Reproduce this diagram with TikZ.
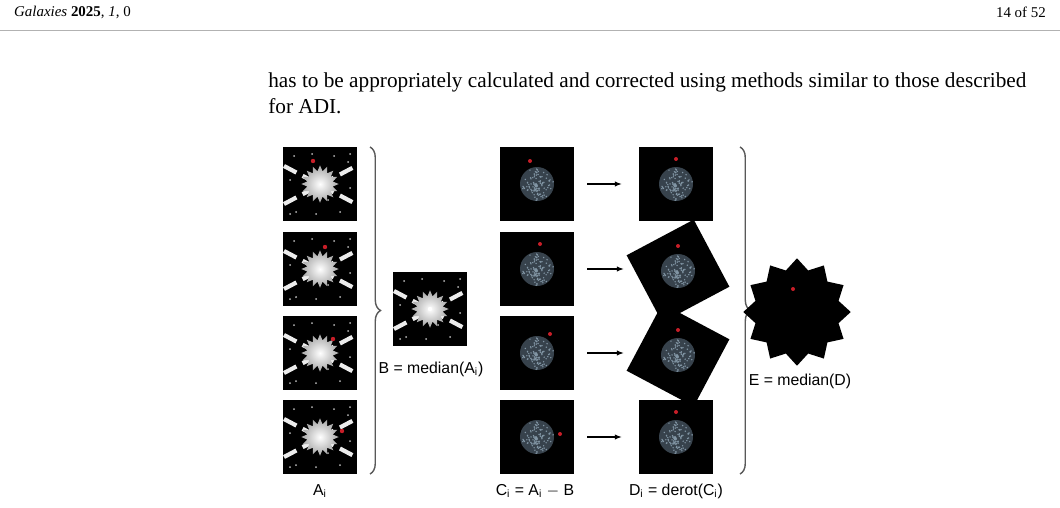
\documentclass[tikz,border=0pt]{standalone}
\usepackage{fontspec}
\setmainfont{Liberation Serif}
\newfontfamily\labfont{Liberation Sans}
\usetikzlibrary{shapes.geometric,decorations.pathreplacing,arrows.meta}
\definecolor{speck}{RGB}{55,66,76}
\definecolor{specklight}{RGB}{130,150,165}
\definecolor{planet}{RGB}{200,30,40}
\tikzset{
  frame/.style={fill=black, minimum size=1.48cm, inner sep=0pt, draw=none},
  beam/.style={white!85!gray, line width=2.4pt, dash pattern=on 8pt off 4pt},
  burst/.style={star, star points=16, star point ratio=1.45, minimum size=0.75cm,
    inner sep=0pt, shading=radial, inner color=white, outer color=gray!70, draw=none},
  lab/.style={font=\labfont\fontsize{9}{11}\selectfont, inner sep=1pt},
  derot/.style={-{Latex[length=4pt]}, thick, shorten >=1.08cm, shorten <=0.26cm},
  grp/.style={decorate, decoration={brace, amplitude=6pt}, gray!70!black, thick},
}
% star field with dashed beams
\newcommand{\starfield}[5]{%
  \begin{scope}[shift={(#1,#2)}]
    \draw[beam] (-36,-18) -- (36,20);
    \draw[beam] (-36,20) -- (36,-18);
    \node[burst] at (0,0) {};
    \foreach \p in {(-26,-28),(-8,-30),(14,-28),(28,-22),(-30,-4),(30,4),(-24,28),(-4,30),(20,28),(30,-30),(-30,30),(8,16)}
      \fill[gray!55] \p circle (1);
    \fill[#5] (#3,#4) circle (2.2);
  \end{scope}}
% speckle residual after subtraction
\newcommand{\residual}[5]{%
  \begin{scope}[shift={(#1,#2)}, rotate=#5]
    \fill[speck] (0,0) circle (17);
    \pgfmathsetseed{7}
    \foreach \i in {1,...,110}
      \fill[specklight] ({rnd*360}:{rnd*16.5}) circle (0.8);
    \fill[planet] (#3,#4) circle (2);
  \end{scope}}
\begin{document}
\begin{tikzpicture}[x=0.02cm, y=-0.02cm]
  \useasboundingbox (0,0) rectangle (1060,507);

  % page header and text
  \node[anchor=west] (hd) at (8,12) {\fontsize{8.5}{10}\selectfont\textit{Galaxies} \textbf{2025}, \textit{1}, 0};
  \node[anchor=east] (pg) at (1052,12) {\fontsize{8.5}{10}\selectfont 14 of 52};
  \draw[gray!60] (0,30) -- (1060,30);
  \node[anchor=west, inner sep=0pt] (t1) at (268,82) {\fontsize{12.1}{14}\selectfont has to be appropriately calculated and corrected using methods similar to those described};
  \node[anchor=west, inner sep=0pt] (t2) at (268,106) {\fontsize{12.1}{14}\selectfont for ADI.};

  % column A
  \foreach \k/\y in {1/184, 2/269, 3/353, 4/437}
    \node[frame] (a\k) at (320,\y) {};
  \starfield{320}{184}{-7}{-23}{planet}
  \starfield{320}{269}{5}{-22}{planet}
  \starfield{320}{353}{13}{-14}{planet}
  \starfield{320}{437}{22}{-6}{planet}
  \draw[grp] (370,147) -- (370,474);
  \node[lab] (la) at (320,491) {A\textsubscript{i}};

  % column B
  \node[frame] (b) at (430,309) {};
  \starfield{430}{309}{0}{0}{white}
  \node[lab] (lb) at (431,369) {B = median(A\textsubscript{i})};

  % column C
  \foreach \k/\y in {1/184, 2/269, 3/353, 4/437}
    \node[frame] (c\k) at (537,\y) {};
  \residual{537}{184}{-7}{-23}{0}
  \residual{537}{269}{3}{-25}{0}
  \residual{537}{353}{13}{-19}{0}
  \residual{537}{437}{23}{-3}{0}
  \node[lab] (lc) at (535,491) {C\textsubscript{i} = A\textsubscript{i} $-$ B};

  % column D
  \node[frame] (d1) at (676,184) {};
  \node[frame, rotate=28, minimum size=1.52cm] (d2) at (678,271) {};
  \node[frame, rotate=-28, minimum size=1.52cm] (d3) at (678,355) {};
  \node[frame] (d4) at (676,437) {};
  \residual{676}{184}{0}{-25}{0}
  \residual{678}{271}{0}{-25}{0}
  \residual{678}{355}{0}{-25}{0}
  \residual{676}{437}{0}{-25}{0}
  \node[lab] (ld) at (676,491) {D\textsubscript{i} = derot(C\textsubscript{i})};

  \foreach \k in {1,...,4}
    \draw[derot] (c\k) -- (c\k -| d\k);
  \draw[grp] (740,147) -- (740,474);

  % combined E
  \node[star, star points=12, star point ratio=1.25, minimum size=2.15cm, fill=black, inner sep=0pt] (e) at (797,312) {};
  \fill[planet] (793,289) circle (2);
  \node[lab] (le) at (800,381) {E = median(D)};
\end{tikzpicture}
\end{document}
